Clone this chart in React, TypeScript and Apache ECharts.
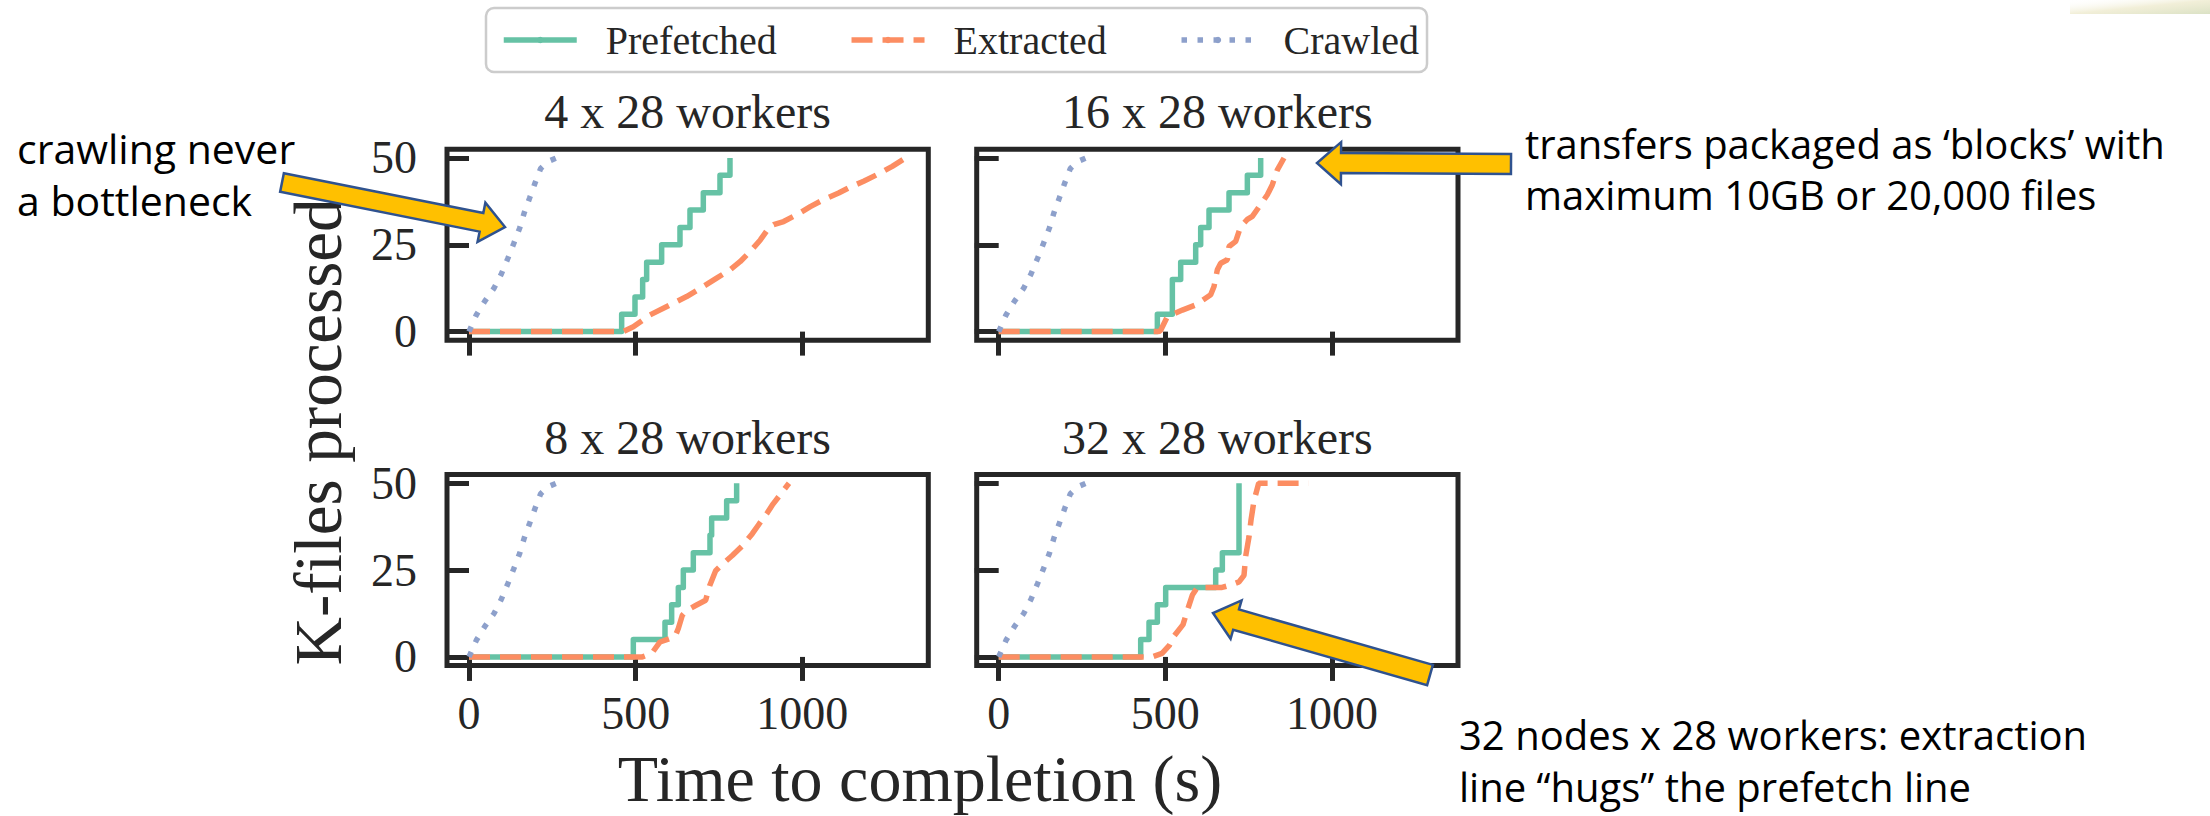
import React, { useEffect, useRef } from 'react';
import * as echarts from 'echarts';

// ---------- data ----------
const xTicks = [0, 500, 1000];
const yTicks = [0, 25, 50];
const panelTitles = ['4 x 28 workers', '16 x 28 workers', '8 x 28 workers', '32 x 28 workers'];
const seriesNames = ['Prefetched', 'Extracted', 'Crawled'];

const crawled = [[0, 0], [22, 4.8], [47, 8.7], [75, 12.5], [97, 16.6], [117, 21.2], [134, 25.3], [152, 29.8], [166, 34.3], [182, 38.5], [199, 43], [215, 47], [237, 49], [262, 50]];

const prefetched4 = [[0, 0], [458, 5], [498, 10], [521, 15], [533, 20], [578, 25], [633, 30], [663, 35], [703, 40], [753, 45], [783, 50]];
const extracted4 = [[0, 0], [463, 0], [493, 1.4], [543, 4.8], [603, 7.7], [653, 10.1], [703, 13], [743, 15.4], [783, 17.8], [814, 20.2], [844, 23.1], [874, 26.4], [899, 29.8], [914, 30.8], [944, 31.7], [984, 33.7], [1024, 36], [1064, 38], [1109, 39.9], [1139, 41.4], [1184, 43.3], [1224, 45.2], [1270, 47.6], [1310, 50]];

const prefetched16 = [[0, 0], [476, 5], [521, 15], [546, 20], [591, 25], [606, 30], [631, 35], [691, 40], [746, 45], [786, 50]];
const extracted16 = [[0, 0], [480, 0], [486, 0.4], [506, 4.3], [551, 6.2], [591, 7.7], [636, 10.6], [646, 13], [656, 17.8], [666, 19.7], [686, 20.7], [691, 24.5], [711, 26], [726, 30.3], [746, 32.3], [761, 33.2], [786, 36.6], [806, 39.4], [821, 42.3], [836, 46.6], [856, 50]];

const prefetched8 = [[0, 0], [493, 5], [588, 10], [608, 15], [628, 20], [643, 25], [673, 30], [723, 35], [728, 40], [773, 45], [803, 50]];
const extracted8 = [[0, 0], [520, 0], [548, 1], [573, 4.3], [603, 5.3], [618, 5.8], [628, 8.2], [640, 12], [653, 13.4], [680, 14.8], [710, 16.3], [722, 20.5], [740, 24.8], [760, 26.7], [790, 29.2], [820, 32], [850, 35.5], [872, 38.5], [895, 41.5], [912, 44], [940, 47.5], [960, 50]];

const prefetched32 = [[0, 0], [426, 5], [451, 10], [476, 15], [501, 20], [651, 25], [671, 30], [721, 50]];
const extracted32 = [[0, 0], [460, 0], [490, 1], [512, 3.3], [526, 6], [553, 9.3], [566, 13.4], [581, 17.8], [596, 20], [670, 20], [696, 20.7], [721, 21.6], [736, 23.5], [741, 29], [751, 34.6], [757, 39.4], [766, 45], [780, 50], [930, 50]];

const panelPrefetched = [prefetched4, prefetched16, prefetched8, prefetched32];
const panelExtracted = [extracted4, extracted16, extracted8, extracted32];

// ---------- style ----------
const INK = '#262626';
const SERIF = "'Liberation Serif', 'Times New Roman', serif";
const SANS = "'Open Sans', 'Noto Sans', sans-serif";
const GREEN = '#66c2a5';
const ORANGE = '#fc8d62';
const BLUE = '#8da0cb';
const LW = 5.5;

const gridPos = [
  { left: 447, top: 149.3 },
  { left: 976.7, top: 149.3 },
  { left: 447, top: 474.6 },
  { left: 976.7, top: 474.6 },
];
const GW = 481.3;
const GH = 191;

function arrowPoints(tail: number[], tip: number[], shaftHalf: number, headHalf: number, headLen: number) {
  const dx = tip[0] - tail[0];
  const dy = tip[1] - tail[1];
  const L = Math.hypot(dx, dy);
  const ux = dx / L, uy = dy / L;
  const px = -uy, py = ux;
  const bx = tip[0] - ux * headLen, by = tip[1] - uy * headLen;
  return [
    [tail[0] + px * shaftHalf, tail[1] + py * shaftHalf],
    [bx + px * shaftHalf, by + py * shaftHalf],
    [bx + px * headHalf, by + py * headHalf],
    [tip[0], tip[1]],
    [bx - px * headHalf, by - py * headHalf],
    [bx - px * shaftHalf, by - py * shaftHalf],
    [tail[0] - px * shaftHalf, tail[1] - py * shaftHalf],
  ];
}

function arrow(tail: number[], tip: number[], shaftHalf: number, headHalf: number, headLen: number) {
  return {
    type: 'polygon',
    z: 200,
    shape: { points: arrowPoints(tail, tip, shaftHalf, headHalf, headLen) },
    style: { fill: '#FFC000', stroke: '#2F528F', lineWidth: 2.5, lineJoin: 'miter' },
  };
}

function note(text: string, x: number, y: number, fontSize = 40) {
  return {
    type: 'text',
    z: 200,
    x,
    y,
    style: { text, fill: '#000000', fontSize, fontFamily: SANS, align: 'left', verticalAlign: 'middle' },
  };
}

function serifText(text: string, x: number, y: number, fontSize: number, rotation = 0) {
  return {
    type: 'text',
    z: 150,
    x,
    y,
    rotation,
    style: { text, fill: INK, fontSize, fontFamily: SERIF, align: 'center', verticalAlign: 'middle' },
  };
}

export default function App() {
  const ref = useRef<HTMLDivElement>(null);

  useEffect(() => {
    if (!ref.current) return;
    const chart = echarts.init(ref.current, undefined, { renderer: 'svg' });

    const grids = gridPos.map((g) => ({
      left: g.left,
      top: g.top,
      width: GW,
      height: GH,
      show: true,
      borderColor: INK,
      borderWidth: 5,
      backgroundColor: 'transparent',
      containLabel: false,
    }));

    const xAxes = gridPos.map((_, i) => ({
      type: 'value',
      gridIndex: i,
      min: -66,
      max: 1378,
      splitLine: { show: false },
      axisLine: { show: false },
      axisTick: { show: true, customValues: xTicks, length: 24, lineStyle: { color: INK, width: 5 } },
      axisLabel: {
        show: i >= 2,
        customValues: xTicks,
        formatter: (v: number) => String(v),
        fontSize: 46,
        fontFamily: SERIF,
        color: INK,
        margin: 25,
      },
    }));

    const yAxes = gridPos.map((_, i) => ({
      type: 'value',
      gridIndex: i,
      min: -2.5,
      max: 52.5,
      splitLine: { show: false },
      axisLine: { show: false },
      axisTick: { show: true, customValues: yTicks, length: 24, lineStyle: { color: INK, width: 5 } },
      axisLabel: {
        show: i % 2 === 0,
        customValues: yTicks,
        formatter: (v: number) => String(v),
        fontSize: 46,
        fontFamily: SERIF,
        color: INK,
        margin: 30,
      },
    }));

    const series: any[] = [];
    gridPos.forEach((_, i) => {
      series.push({
        type: 'line',
        name: seriesNames[0],
        xAxisIndex: i,
        yAxisIndex: i,
        data: panelPrefetched[i],
        step: 'end',
        symbol: 'none',
        silent: true,
        itemStyle: { color: GREEN },
        lineStyle: { color: GREEN, width: LW, join: 'round' },
      });
      series.push({
        type: 'line',
        name: seriesNames[1],
        xAxisIndex: i,
        yAxisIndex: i,
        data: panelExtracted[i],
        symbol: 'none',
        silent: true,
        itemStyle: { color: ORANGE },
        lineStyle: { color: ORANGE, width: LW, type: [21, 10], cap: 'butt' },
      });
      series.push({
        type: 'line',
        name: seriesNames[2],
        xAxisIndex: i,
        yAxisIndex: i,
        data: crawled,
        symbol: 'none',
        silent: true,
        itemStyle: { color: BLUE },
        lineStyle: { color: BLUE, width: LW, type: [5.5, 10.5], cap: 'butt' },
      });
    });

    const titleCenters = [
      [gridPos[0].left + GW / 2, 111.7],
      [gridPos[1].left + GW / 2, 111.7],
      [gridPos[2].left + GW / 2, 437],
      [gridPos[3].left + GW / 2, 437],
    ];

    const graphics: any[] = [
      {
        type: 'rect',
        z: 1,
        shape: { x: 2070, y: 0, width: 140, height: 14 },
        style: {
          fill: new echarts.graphic.LinearGradient(0, 0, 1, 1, [
            { offset: 0, color: 'rgba(255,255,255,0)' },
            { offset: 0.5, color: 'rgba(236,232,200,0.7)' },
            { offset: 1, color: 'rgba(214,222,190,0.9)' },
          ]),
        },
      },
      ...panelTitles.map((t, i) => serifText(t, titleCenters[i][0], titleCenters[i][1], 48)),
      serifText('Time to completion (s)', 920, 778, 66),
      serifText('K-files processed', 318, 432, 67, Math.PI / 2),
      arrow([282, 182.5], [505, 227], 9.5, 20, 24),
      arrow([1511, 164], [1317, 163], 10, 21, 24),
      arrow([1430, 675], [1213, 613], 10.5, 20, 24),
      note('crawling never', 17, 148, 41),
      note('a bottleneck', 17, 200, 41),
      note('transfers packaged as \u2018blocks\u2019 with', 1525, 143),
      note('maximum 10GB or 20,000 files', 1525, 194),
      note('32 nodes x 28 workers: extraction', 1459, 734),
      note('line \u201chugs\u201d the prefetch line', 1459, 786),
    ];

    chart.setOption({
      animation: false,
      backgroundColor: '#ffffff',
      legend: {
        data: seriesNames,
        left: 486,
        top: 8,
        orient: 'horizontal',
        itemWidth: 73,
        itemHeight: 8,
        itemGap: 72,
        padding: [12, 8, 12, 15],
        borderColor: '#cccccc',
        borderWidth: 2.5,
        borderRadius: 8,
        backgroundColor: '#ffffff',
        selectedMode: false,
        lineStyle: { width: LW },
        textStyle: { fontFamily: SERIF, fontSize: 40, color: INK, padding: [0, 0, 0, 24] },
      },
      grid: grids,
      xAxis: xAxes,
      yAxis: yAxes,
      series,
      graphic: graphics,
    });

    return () => chart.dispose();
  }, []);

  return (
    <div
      ref={ref}
      style={{ position: 'fixed', left: 0, top: 0, width: 2210, height: 816, background: '#ffffff' }}
    />
  );
}
